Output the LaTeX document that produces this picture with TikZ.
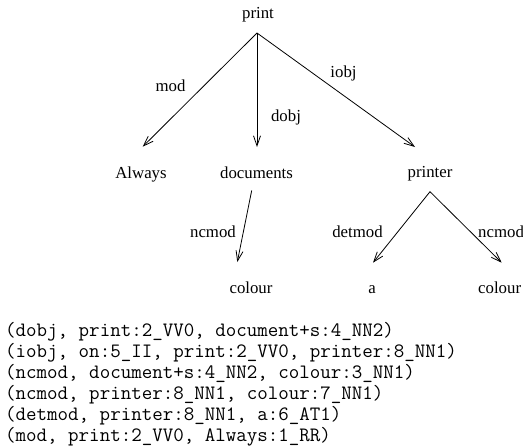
\documentclass[tikz,border=0pt]{standalone}
\usepackage{fontspec}
\setmainfont{Liberation Serif}
\usetikzlibrary{arrows.meta}
\begin{document}
\begin{tikzpicture}[x=1pt,y=-1pt,
  word/.style={anchor=base,inner sep=0pt,font=\fontsize{16.8}{20}\selectfont},
  rel/.style={anchor=base,inner sep=0pt,font=\fontsize{16.8}{20}\selectfont},
  tuple/.style={anchor=base west,inner sep=0pt,font=\ttfamily\fontsize{20.4}{21}\selectfont},
  dep/.style={draw,line width=0.8pt,-{Straight Barb[length=10pt,width=7pt,line width=0.8pt]}}]
\useasboundingbox (0,0) rectangle (523,447);

% words of the sentence
\node[word] (print) at (258,19) {print};
\node[word] (always) at (141,178) {Always};
\node[word] (documents) at (256.5,178) {documents};
\node[word] (printer) at (430,177) {printer};
\node[word] (colourA) at (251,293) {colour};
\node[word] (a) at (372,293) {a};
\node[word,anchor=base west] (colourB) at (478,293) {colour};

% arrow end points
\coordinate (print-out) at (257,33);
\coordinate (always-in) at (142.7,146.7);
\coordinate (documents-in) at (257,147);
\coordinate (printer-in) at (415,147);
\coordinate (documents-out) at (251.7,190.5);
\coordinate (colourA-in) at (237.3,262);
\coordinate (printer-out) at (430,191.7);
\coordinate (a-in) at (373,262.7);
\coordinate (colourB-in) at (501.7,262.7);

% dependencies
\draw[dep] (print-out) -- (always-in);
\draw[dep] (print-out) -- (documents-in);
\draw[dep] (print-out) -- (printer-in);
\draw[dep] (documents-out) -- (colourA-in);
\draw[dep] (printer-out) -- (a-in);
\draw[dep] (printer-out) -- (colourB-in);

% relation labels
\node[rel] (l-mod) at (170.5,91.5) {mod};
\node[rel] (l-dobj) at (286,121) {dobj};
\node[rel] (l-iobj) at (343.5,77.3) {iobj};
\node[rel] (l-ncmodA) at (213,237) {ncmod};
\node[rel] (l-detmod) at (357.5,237) {detmod};
\node[rel,anchor=base west] (l-ncmodB) at (478,237) {ncmod};

% grammatical relations
\node[tuple] (t1) at (5,336) {(dobj, print:2\_VV0, document+s:4\_NN2)};
\node[tuple] (t2) at (5,357) {(iobj, on:5\_II, print:2\_VV0, printer:8\_NN1)};
\node[tuple] (t3) at (5,378) {(ncmod, document+s:4\_NN2, colour:3\_NN1)};
\node[tuple] (t4) at (5,399) {(ncmod, printer:8\_NN1, colour:7\_NN1)};
\node[tuple] (t5) at (5,420) {(detmod, printer:8\_NN1, a:6\_AT1)};
\node[tuple] (t6) at (5,441) {(mod, print:2\_VV0, Always:1\_RR)};
\end{tikzpicture}
\end{document}
